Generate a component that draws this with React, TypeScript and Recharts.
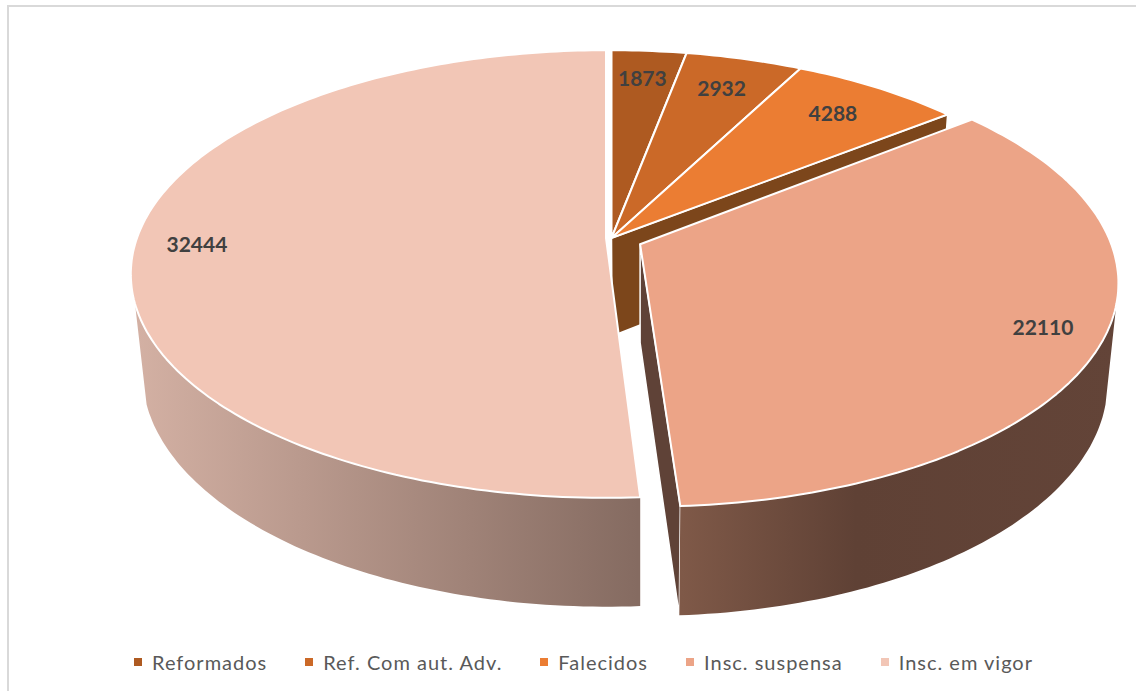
import { PieChart, Pie, Cell, Legend } from 'recharts';

const categories = ['Reformados', 'Ref. Com aut. Adv.', 'Falecidos', 'Insc. suspensa', 'Insc. em vigor'];
const inscritos = [1873, 2932, 4288, 22110, 32444];
const topColors = ['#ae5a21', '#cb6928', '#eb7d33', '#eca487', '#f2c6b6'];

const tableData = categories.map((name, i) => ({ name, value: inscritos[i] }));

const EXPLODED = 'Insc. suspensa';
const CUT_FACE = 'Falecidos';
const LARGEST = 'Insc. em vigor';

// perspective of the 3D pie, fitted to the picture
const CX = 610;
const CY = 238;
const RX = 473;
const RY = 218;
const PERSP = 0.161;
const EXPLODE = 0.07;
const DEPTH = 98;
const VANISH_X = 640;
const VANISH_DY = 4400;
const WALL_MIN_V = 0.28;

const rad = (deg: number) => (deg * Math.PI) / 180;

const scaleAt = (v: number) => 1 / (1 - PERSP * v);

// the slices do not quite share a centre in the picture
type Frame = { cx: number; rx: number };
function frameFor(name: string): Frame {
  if (name === EXPLODED) return { cx: CX, rx: RX - 4 };
  if (name === LARGEST) return { cx: CX - 4, rx: RX - 4 };
  return { cx: CX + 1.5, rx: RX };
}

function project(f: Frame, u: number, v: number) {
  const s = scaleAt(v);
  return { x: f.cx + f.rx * u * s, y: CY + RY * v * s };
}

function drop(f: Frame, u: number, v: number) {
  const top = project(f, u, v);
  const dy = DEPTH * Math.pow(scaleAt(v), 0.6);
  return { x: top.x + ((VANISH_X - top.x) * dy) / VANISH_DY, y: top.y + dy };
}

type Pt = { x: number; y: number };
const toPath = (pts: Pt[]) =>
  pts.map((p, i) => `${i ? 'L' : 'M'}${p.x.toFixed(1)},${p.y.toFixed(1)}`).join(' ') + ' Z';

function offsetFor(name: string, startAngle: number, endAngle: number) {
  if (name !== EXPLODED) return { ox: 0, oy: 0 };
  const mid = rad((startAngle + endAngle) / 2);
  return { ox: EXPLODE * Math.cos(mid), oy: -EXPLODE * Math.sin(mid) };
}

function Slice3D(props: any) {
  const { startAngle, endAngle, fill } = props;
  const name: string = props.payload?.name ?? props.name;
  const { ox, oy } = offsetFor(name, startAngle, endAngle);
  const f = frameFor(name);

  const rim: { u: number; v: number }[] = [];
  const steps = Math.max(2, Math.ceil(Math.abs(startAngle - endAngle)));
  for (let i = 0; i <= steps; i++) {
    const a = rad(startAngle + ((endAngle - startAngle) * i) / steps);
    rim.push({ u: ox + Math.cos(a), v: oy - Math.sin(a) });
  }

  const topPath = toPath([project(f, ox, oy), ...rim.map(p => project(f, p.u, p.v))]);

  const front = rim.filter(p => p.v >= WALL_MIN_V);
  const wallPath = front.length > 1
    ? toPath([
        ...front.map(p => project(f, p.u, p.v)),
        ...[...front].reverse().map(p => drop(f, p.u, p.v)),
      ])
    : null;

  const last = rim[rim.length - 1];
  const hasFace = name === EXPLODED || name === CUT_FACE;
  const facePath = hasFace
    ? toPath([project(f, ox, oy), project(f, last.u, last.v), drop(f, last.u, last.v), drop(f, ox, oy)])
    : null;

  const wallFill = name === EXPLODED ? 'url(#wallSuspensa)' : 'url(#wallVigor)';
  const faceFill = name === EXPLODED ? '#5f4237' : '#7c461b';

  return (
    <g>
      {facePath && <path d={facePath} fill={faceFill} stroke="#ffffff" strokeWidth={1.5} strokeLinejoin="round" />}
      {wallPath && <path d={wallPath} fill={wallFill} />}
      <path d={topPath} fill={fill} stroke="#ffffff" strokeWidth={2} strokeLinejoin="round" />
    </g>
  );
}

function SliceLabel(props: any) {
  const { midAngle, value, name, percent } = props;
  const a = rad(midAngle);
  const reach = percent > 0.25 ? 0.87 : percent < 0.04 ? 0.84 : 0.82;
  const { ox, oy } = offsetFor(name, midAngle, midAngle);
  const p = project({ cx: CX, rx: RX }, ox + reach * Math.cos(a), oy - reach * Math.sin(a));
  return (
    <text
      x={p.x}
      y={p.y}
      textAnchor="middle"
      dominantBaseline="central"
      fill="#404040"
      fontFamily="Lato"
      fontWeight={700}
      fontSize={21}
    >
      {value}
    </text>
  );
}

function LegendRow({ payload }: any) {
  return (
    <div style={{ display: 'flex', gap: 38, alignItems: 'center', whiteSpace: 'nowrap' }}>
      {(payload ?? []).map((item: any) => (
        <div key={item.value} style={{ display: 'flex', alignItems: 'center' }}>
          <span style={{ width: 8, height: 8, background: item.color, marginRight: 10 }} />
          <span style={{ fontFamily: 'Lato', fontSize: 20, letterSpacing: 1, color: '#595959' }}>{item.value}</span>
        </div>
      ))}
    </div>
  );
}

export default function App() {
  return (
    <div style={{ position: 'absolute', left: 0, top: 0, width: 1136, height: 695, background: '#fff', overflow: 'hidden' }}>
      <div style={{ position: 'absolute', left: 7, top: 5, right: 0, bottom: 4, borderLeft: '2px solid #d9d9d9', borderTop: '2px solid #d9d9d9' }} />
      <PieChart width={1136} height={695} margin={{ top: 0, right: 0, bottom: 0, left: 0 }}>
        <defs>
          <linearGradient id="wallVigor" gradientUnits="userSpaceOnUse" x1="131" y1="0" x2="638" y2="0">
            <stop offset="0" stopColor="#d4b1a4" />
            <stop offset="1" stopColor="#856b61" />
          </linearGradient>
          <linearGradient id="wallSuspensa" gradientUnits="userSpaceOnUse" x1="681" y1="0" x2="1118" y2="0">
            <stop offset="0" stopColor="#7f5948" />
            <stop offset="0.4" stopColor="#5f4135" />
            <stop offset="1" stopColor="#634438" />
          </linearGradient>
        </defs>
        <Pie
          data={tableData}
          dataKey="value"
          nameKey="name"
          cx={CX}
          cy={CY}
          outerRadius={200}
          startAngle={90}
          endAngle={-270}
          stroke="none"
          legendType="square"
          shape={Slice3D}
          label={SliceLabel}
          labelLine={false}
          isAnimationActive={false}
        >
          {tableData.map((d, i) => (
            <Cell key={d.name} fill={topColors[i]} />
          ))}
        </Pie>
        <Legend
          content={LegendRow}
          itemSorter={null}
          wrapperStyle={{ position: 'absolute', left: 134, top: 650, width: 'auto' }}
        />
      </PieChart>
    </div>
  );
}
